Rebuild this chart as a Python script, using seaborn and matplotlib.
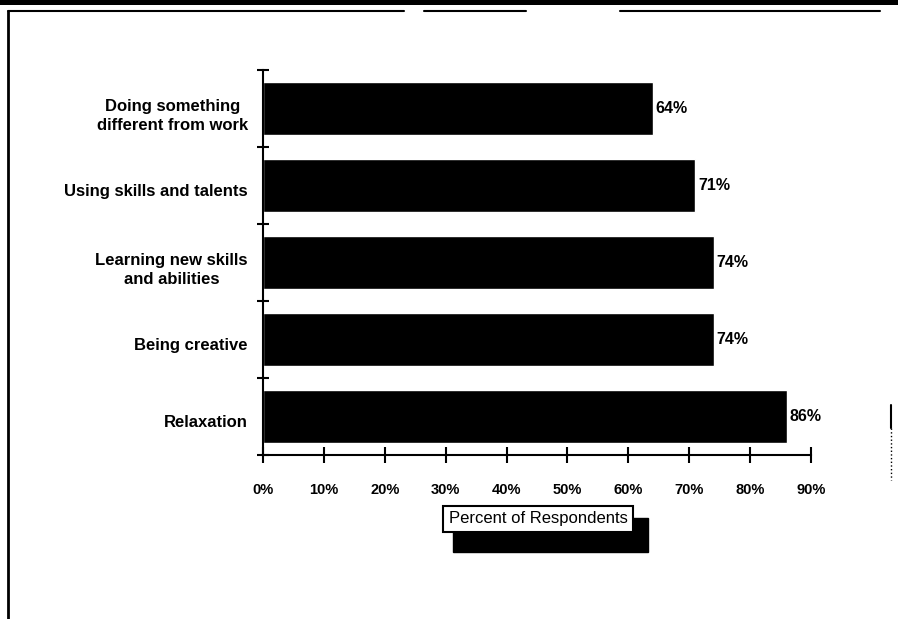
import matplotlib
matplotlib.use("Agg")
import matplotlib.pyplot as plt
import matplotlib.transforms as mtransforms
from matplotlib.patches import Rectangle
from matplotlib.lines import Line2D
import seaborn as sns
import pandas as pd

categories = ["Doing something\ndifferent from work",
              "Using skills and talents",
              "Learning new skills\nand abilities",
              "Being creative",
              "Relaxation"]
values = [64, 71, 74, 74, 86]
xticks = [0, 10, 20, 30, 40, 50, 60, 70, 80, 90]
xtick_labels = [f"{t}%" for t in xticks]
axis_title = "Percent of Respondents"

sns.set_theme(style="white")
plt.rcParams['font.family'] = ['Liberation Sans', 'DejaVu Sans']
plt.rcParams['text.color'] = 'black'
plt.rcParams['xtick.color'] = 'black'
plt.rcParams['ytick.color'] = 'black'
plt.rcParams['xtick.labelcolor'] = 'black'
plt.rcParams['ytick.labelcolor'] = 'black'

W, H = 898, 619
fig = plt.figure(figsize=(W / 100, H / 100), dpi=100)
fig.patch.set_facecolor("white")

def fx(px):
    return px / W

def fy(py):
    return 1 - py / H

ax = fig.add_axes([fx(263), fy(455), fx(811) - fx(263), fy(70) - fy(455)])
df = pd.DataFrame({"cat": categories, "val": values})
sns.barplot(data=df, x="val", y="cat", orient="h", color="black",
            saturation=1, width=0.68, ax=ax)

ax.set_xlim(0, 90)
ax.set_ylim(4.5, -0.5)
ax.set_xlabel("")
ax.set_ylabel("")
ax.set_xticks(xticks)
ax.set_xticklabels(xtick_labels, fontsize=10.5, fontweight="bold", color="black")
ax.set_yticks(range(len(categories)))
ax.set_yticklabels(categories, fontsize=12, fontweight="bold",
                   multialignment="center", color="black", linespacing=1.3)
ax.set_yticks([i - 0.5 for i in range(len(categories) + 1)], minor=True)
ax.tick_params(axis="y", which="major", length=0, pad=11)
ax.tick_params(axis="y", which="minor", direction="inout", length=9,
               width=1.5, color="black", left=True)
ax.tick_params(axis="x", which="major", direction="inout", length=12,
               width=1.5, color="black", pad=14, bottom=True)

shift = mtransforms.ScaledTranslation(0, -3 / 72, fig.dpi_scale_trans)
for lab in ax.get_yticklabels():
    lab.set_transform(lab.get_transform() + shift)

for s in ["top", "right"]:
    ax.spines[s].set_visible(False)
for s in ["left", "bottom"]:
    ax.spines[s].set_color("black")
    ax.spines[s].set_linewidth(1.5)

ax.bar_label(ax.containers[0], labels=[f"{v}%" for v in values],
             padding=2, fontsize=11.5, fontweight="bold", color="black")

# Axis title box with shadow
fig.add_artist(Rectangle((fx(453), fy(552)), fx(648) - fx(453), fy(518) - fy(552),
                         transform=fig.transFigure, facecolor="black",
                         edgecolor="black", zorder=5))
fig.add_artist(Rectangle((fx(443), fy(532)), fx(633) - fx(443), fy(506) - fy(532),
                         transform=fig.transFigure, facecolor="white",
                         edgecolor="black", linewidth=1.5, zorder=6))
fig.text(fx(538), fy(519), axis_title, ha="center", va="center",
         fontsize=12, color="black", zorder=7)

# Scanned page frame
fig.add_artist(Rectangle((0, fy(5)), 1, fy(0) - fy(5), transform=fig.transFigure,
                         facecolor="black", edgecolor="none"))
for (x0, x1) in [(8, 404), (424, 526), (620, 880)]:
    fig.add_artist(Line2D([fx(x0), fx(x1)], [fy(11), fy(11)],
                          transform=fig.transFigure, color="black", linewidth=1.5))
fig.add_artist(Line2D([fx(8), fx(8)], [fy(11), fy(619)],
                      transform=fig.transFigure, color="black", linewidth=2))
fig.add_artist(Line2D([fx(891), fx(891)], [fy(405), fy(428)],
                      transform=fig.transFigure, color="black", linewidth=1.5))
fig.add_artist(Line2D([fx(891), fx(891)], [fy(428), fy(480)],
                      transform=fig.transFigure, color="black", linewidth=1,
                      linestyle=":"))

fig.savefig("out.png", dpi=100, facecolor="white")
